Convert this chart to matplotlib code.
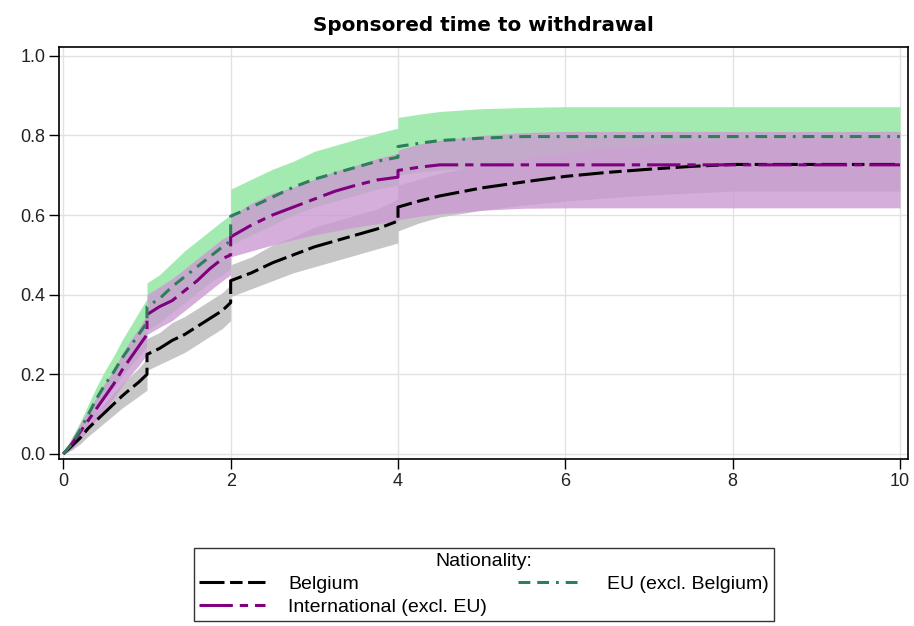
import numpy as np
import matplotlib
matplotlib.use("Agg")
import matplotlib.pyplot as plt
from matplotlib.lines import Line2D

plt.rcParams["font.family"] = ["Liberation Sans", "DejaVu Sans"]
plt.rcParams["lines.scale_dashes"] = False

# Years since start of sponsorship; repeated times mark the jumps at 1, 2 and 4
years = [0, 0.1, 0.2, 0.3, 0.4, 0.5, 0.6, 0.7, 0.8, 0.9, 1.0,
         1.0, 1.15, 1.3, 1.45, 1.6, 1.75, 1.9, 2.0,
         2.0, 2.25, 2.5, 2.75, 3.0, 3.25, 3.5, 3.75, 4.0,
         4.0, 4.25, 4.5, 5.0, 5.5, 6.0, 6.5, 7.0, 7.5, 8.0, 10.0]

# Cumulative incidence of withdrawal with pointwise confidence limits
belgium = [0, 0.02, 0.04, 0.065, 0.085, 0.105, 0.125, 0.145, 0.163, 0.18, 0.2,
           0.25, 0.265, 0.285, 0.30, 0.32, 0.34, 0.36, 0.38,
           0.435, 0.455, 0.48, 0.50, 0.52, 0.535, 0.55, 0.565, 0.585,
           0.62, 0.635, 0.648, 0.668, 0.683, 0.697, 0.707, 0.715, 0.722,
           0.727, 0.727]
belgium_lo = [0, 0.01, 0.025, 0.045, 0.062, 0.08, 0.097, 0.115, 0.13, 0.145,
              0.16,
              0.21, 0.225, 0.24, 0.255, 0.275, 0.295, 0.315, 0.335,
              0.395, 0.415, 0.435, 0.455, 0.47, 0.485, 0.5, 0.515, 0.53,
              0.56, 0.58, 0.595, 0.612, 0.625, 0.635, 0.643, 0.65, 0.655,
              0.66, 0.66]
belgium_hi = [0, 0.03, 0.055, 0.085, 0.108, 0.13, 0.153, 0.175, 0.196, 0.215,
              0.24,
              0.29, 0.305, 0.33, 0.345, 0.365, 0.385, 0.405, 0.425,
              0.475, 0.495, 0.525, 0.545, 0.57, 0.585, 0.6, 0.615, 0.64,
              0.675, 0.69, 0.705, 0.725, 0.742, 0.757, 0.768, 0.777, 0.784,
              0.79, 0.79]

eu = [0, 0.025, 0.06, 0.1, 0.14, 0.175, 0.205, 0.24, 0.27, 0.30, 0.33,
      0.37, 0.39, 0.42, 0.445, 0.47, 0.495, 0.52, 0.535,
      0.597, 0.62, 0.645, 0.67, 0.69, 0.705, 0.72, 0.735, 0.745,
      0.772, 0.78, 0.787, 0.793, 0.797, 0.797, 0.797, 0.797, 0.797,
      0.797, 0.797]
eu_lo = [0, 0.01, 0.04, 0.075, 0.11, 0.14, 0.165, 0.195, 0.22, 0.245, 0.27,
         0.31, 0.33, 0.355, 0.38, 0.405, 0.43, 0.45, 0.465,
         0.525, 0.55, 0.575, 0.6, 0.62, 0.635, 0.65, 0.665, 0.675,
         0.70, 0.708, 0.713, 0.718, 0.72, 0.72, 0.72, 0.72, 0.72,
         0.72, 0.72]
eu_hi = [0, 0.04, 0.08, 0.125, 0.17, 0.21, 0.245, 0.285, 0.32, 0.355, 0.39,
         0.43, 0.45, 0.48, 0.51, 0.535, 0.56, 0.585, 0.6,
         0.665, 0.69, 0.715, 0.735, 0.76, 0.775, 0.79, 0.805, 0.818,
         0.845, 0.853, 0.86, 0.867, 0.87, 0.872, 0.872, 0.872, 0.872,
         0.872, 0.872]

intl = [0, 0.025, 0.055, 0.085, 0.115, 0.145, 0.175, 0.21, 0.24, 0.27, 0.30,
        0.35, 0.37, 0.385, 0.41, 0.435, 0.465, 0.49, 0.50,
        0.545, 0.575, 0.60, 0.62, 0.64, 0.66, 0.675, 0.688, 0.695,
        0.712, 0.72, 0.726, 0.726, 0.726, 0.726, 0.726, 0.726, 0.726,
        0.726, 0.726]
intl_lo = [0, 0.012, 0.035, 0.06, 0.088, 0.113, 0.14, 0.17, 0.197, 0.222,
           0.25,
           0.3, 0.318, 0.335, 0.36, 0.385, 0.41, 0.435, 0.45,
           0.495, 0.51, 0.525, 0.538, 0.55, 0.56, 0.57, 0.578, 0.585,
           0.588, 0.597, 0.603, 0.612, 0.617, 0.618, 0.618, 0.618, 0.618,
           0.618, 0.618]
intl_hi = [0, 0.04, 0.075, 0.11, 0.145, 0.18, 0.21, 0.25, 0.285, 0.315, 0.35,
           0.4, 0.42, 0.44, 0.465, 0.49, 0.515, 0.54, 0.55,
           0.597, 0.63, 0.655, 0.67, 0.69, 0.71, 0.725, 0.742, 0.755,
           0.763, 0.778, 0.788, 0.80, 0.807, 0.81, 0.81, 0.81, 0.81,
           0.81, 0.81]

group_names = ["Belgium", "International (excl. EU)", "EU (excl. Belgium)"]
x_ticks = [0, 2, 4, 6, 8, 10]
y_ticks = [0.0, 0.2, 0.4, 0.6, 0.8, 1.0]

col_bel, col_int, col_eu = "black", "#800080", "#2e7d5c"
dash_bel = (18, 4, 9, 4)
dash_int = (24, 5, 6, 5)
dash_eu = (8.5, 5, 8.5, 5, 2, 5)

fig = plt.figure(figsize=(9.14, 6.26), dpi=100)
ax = fig.add_axes([0.0649, 0.2668, 0.9289, 0.6576])

# Confidence bands
ax.fill_between(years, eu_lo, eu_hi, color="#a3eab0", linewidth=0, zorder=1)
ax.fill_between(years, belgium_lo, belgium_hi, color="#c6c6c6", linewidth=0,
                zorder=1.5)
ax.fill_between(years, intl_lo, intl_hi, color="#cc9ad2", alpha=0.8,
                linewidth=0, zorder=2)

# Estimates
lw = 2.2
ax.plot(years, belgium, color=col_bel, lw=lw, dashes=dash_bel, zorder=4)
ax.plot(years, intl, color=col_int, lw=lw, dashes=dash_int, zorder=4)
ax.plot(years, eu, color=col_eu, lw=lw, dashes=dash_eu, zorder=4)

ax.set_xlim(-0.048, 10.1)
ax.set_ylim(-0.0126, 1.0211)
ax.set_xticks(x_ticks)
ax.set_xticklabels([str(v) for v in x_ticks])
ax.set_yticks(y_ticks)
ax.set_yticklabels([f"{v:.1f}" for v in y_ticks])
ax.grid(True, color="#e2e2e2", linewidth=1)
ax.set_axisbelow(True)
ax.tick_params(direction="out", length=7, width=1, labelsize=13,
               labelcolor="#222222", pad=3)
for sp in ax.spines.values():
    sp.set_linewidth(1.2)

ax.set_title("Sponsored time to withdrawal", fontsize=14.4, fontweight="bold",
             family=["DejaVu Sans"], pad=12)

handles = [
    Line2D([], [], color=col_bel, lw=lw, dashes=dash_bel),
    Line2D([], [], color=col_int, lw=lw, dashes=dash_int),
    Line2D([], [], color=col_eu, lw=lw, dashes=dash_eu),
]
leg = fig.legend(handles, group_names, ncol=2, title="Nationality:",
                 loc="upper left",
                 bbox_to_anchor=(194 / 914, 0, 580 / 914, 1 - 548 / 626),
                 mode="expand", frameon=True, fancybox=False, fontsize=14,
                 title_fontsize=14, handlelength=3.4, handletextpad=1.2,
                 borderpad=0.25, labelspacing=0.28, borderaxespad=0)
leg.get_frame().set_edgecolor("black")
leg.get_frame().set_linewidth(1)

fig.savefig("out.png", dpi=100)
